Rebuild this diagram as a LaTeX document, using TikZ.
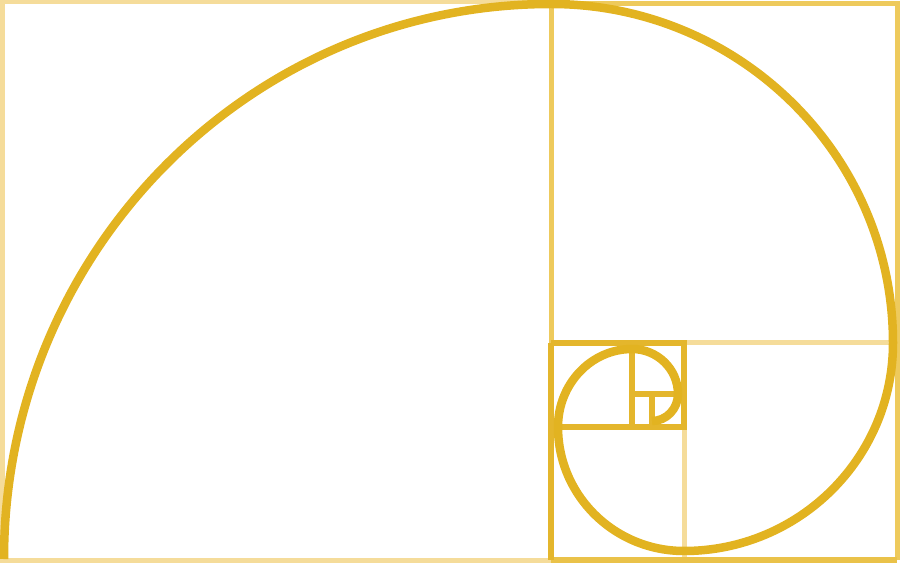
\documentclass[tikz,border=0pt]{standalone}
\definecolor{spiralc}{HTML}{E2B321}
\definecolor{darkc}{HTML}{E4B62C}
\definecolor{medc}{HTML}{EECA5C}
\definecolor{lightc}{HTML}{F5DC9A}
\begin{document}
\begin{tikzpicture}[x=1pt,y=1pt,
  lightline/.style={draw=lightc,line width=5pt},
  medline/.style={draw=medc,line width=5pt},
  darkline/.style={draw=darkc,line width=5.5pt},
  spiral/.style={draw=spiralc,line width=8.5pt}]
\useasboundingbox (0,0) rectangle (900,563);
% corners
\coordinate (TL) at (2,561);
\coordinate (BL) at (2,3);
\coordinate (TM) at (551,561);
\coordinate (BM) at (551,3);
\coordinate (TR) at (897,559);
\coordinate (BR) at (897,3);
\coordinate (MM) at (551,220);
\coordinate (MR) at (897,220);
\coordinate (BQ) at (684,3);
\coordinate (Q1) at (684,220);
\coordinate (Q2) at (684,136);
\coordinate (Q3) at (551,136);
\coordinate (P1) at (632,220);
\coordinate (P2) at (632,136);
\coordinate (P3) at (632,169);
\coordinate (P4) at (684,169);
\coordinate (R1) at (652,169);
\coordinate (R2) at (652,136);
% light frame parts
\draw[lightline] (TM) -- (TL) -- (BL) -- (BM);
\draw[lightline] (Q1) -- (MR);
\draw[lightline] (Q2) -- (BQ);
% medium parts
\draw[medline] (551,559) -- (TR) -- (BR);
\draw[medline] (TM) -- (MM);
\draw[darkline,draw=medc!60!darkc] (BM) -- (BR);
% dark box group
\draw[darkline] (MM) -- (BM);
\draw[darkline] (MM) -- (Q1) -- (Q2) -- (Q3);
\draw[darkline] (P1) -- (P2);
\draw[darkline] (P3) -- (P4);
\draw[darkline] (R1) -- (R2);
% spiral
\draw[spiral] (4,4)
  arc[start angle=180,end angle=90,x radius=547,y radius=555]
  arc[start angle=90,end angle=0,x radius=342,y radius=339]
  arc[start angle=0,end angle=-90,x radius=209,y radius=208]
  arc[start angle=-90,end angle=-180,x radius=126,y radius=124]
  arc[start angle=180,end angle=90,x radius=74,y radius=78]
  arc[start angle=90,end angle=0,x radius=46,y radius=45]
  arc[start angle=0,end angle=-90,x radius=26,y radius=27];
\end{tikzpicture}
\end{document}
